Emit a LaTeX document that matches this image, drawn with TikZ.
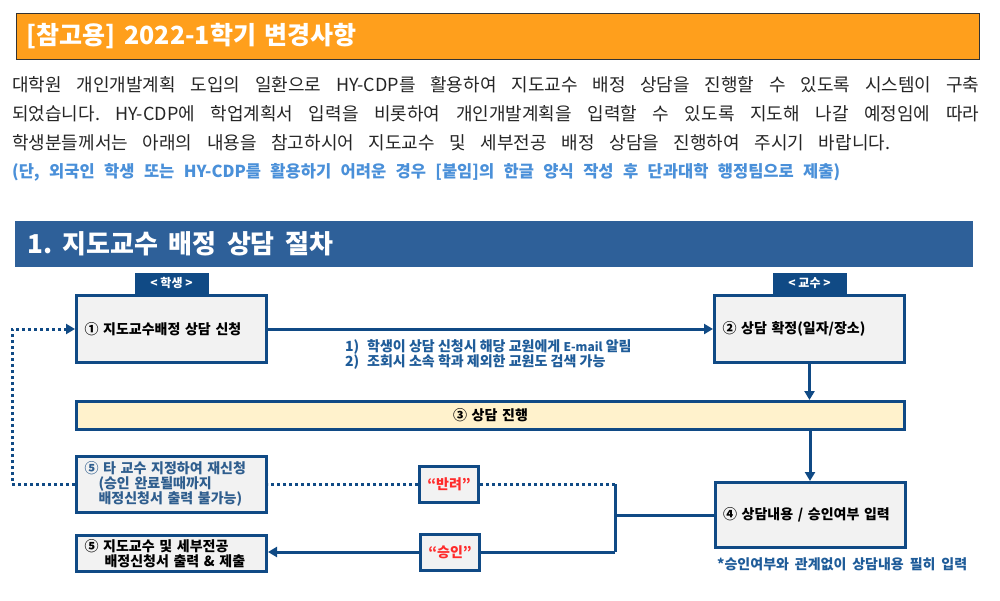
\documentclass[tikz,border=0pt]{standalone}
\usepackage{fontspec}
\setmainfont{Noto Sans CJK KR}
\usepackage{xcolor}
\usetikzlibrary{positioning,arrows.meta}
\frenchspacing

\definecolor{bannerorange}{HTML}{FF9F1C}
\definecolor{bannerblue}{HTML}{2E6099}
\definecolor{navy}{HTML}{104A85}
\definecolor{boxgray}{HTML}{F2F2F2}
\definecolor{boxyellow}{HTML}{FFF2CC}
\definecolor{bodytext}{HTML}{262626}
\definecolor{noteblue}{HTML}{4A90D9}
\definecolor{memoblue}{HTML}{1F5C99}
\definecolor{retext}{HTML}{2F5E8E}
\definecolor{redtext}{HTML}{FF2A2A}

\begin{document}
\begin{tikzpicture}[x=1pt, y=-1pt,
  stepbox/.style={draw=navy, line width=3pt, fill=boxgray, minimum width=190pt, minimum height=67pt,
    inner xsep=8pt, inner ysep=0pt, text width=174pt, align=left, font=\bfseries\fontsize{14}{15}\selectfont},
  roletab/.style={fill=navy, text=white, minimum width=74pt, minimum height=21pt, inner sep=0pt,
    font=\bfseries\fontsize{12}{13}\selectfont},
  verdict/.style={draw=navy, line width=3pt, fill=boxgray, minimum width=59pt, minimum height=36pt,
    inner sep=0pt, text=redtext, font=\bfseries\fontsize{14}{15}\selectfont},
  flow/.style={draw=navy, line width=3pt, -{Triangle[length=9pt,width=10pt]}},
  wire/.style={draw=navy, line width=3pt},
  dotline/.style={draw=navy, line width=3pt, dash pattern=on 3pt off 3pt},
  textline/.style={inner sep=0pt, anchor=west}]
  \fill[white] (0,0) rectangle (1000,600);
  \useasboundingbox (0,0) rectangle (1000,600);

  % banners
  \node[draw=black!80, line width=0.8pt, fill=bannerorange, minimum width=963pt, minimum height=46pt,
    inner sep=0pt, anchor=north west] (head) at (15.5,12.5) {};
  \node[textline, right=11pt of head.west, text=white, font=\bfseries\fontsize{25}{27}\selectfont] (headtxt)
    {\makebox[330pt][s]{[참고용] 2022-1학기 변경사항}};
  \node[textline, font=\fontsize{18}{20}\selectfont, text=bodytext] (par1) at (12,85)
    {\makebox[967pt][s]{대학원 개인개발계획 도입의 일환으로 HY-CDP를 활용하여 지도교수 배정 상담을 진행할 수 있도록 시스템이 구축}};
  \node[textline, font=\fontsize{18}{20}\selectfont, text=bodytext] (par2) at (12,114)
    {\makebox[967pt][s]{되었습니다. HY-CDP에 학업계획서 입력을 비롯하여 개인개발계획을 입력할 수 있도록 지도해 나갈 예정임에 따라}};
  \node[textline, font=\fontsize{18}{20}\selectfont, text=bodytext] (par3) at (12,143)
    {\makebox[878pt][s]{학생분들께서는 아래의 내용을 참고하시어 지도교수 및 세부전공 배정 상담을 진행하여 주시기 바랍니다.}};
  \node[textline, font=\bfseries\fontsize{16.5}{18}\selectfont, text=noteblue] (par4) at (12,172)
    {\makebox[828pt][s]{(단, 외국인 학생 또는 HY-CDP를 활용하기 어려운 경우 [붙임]의 한글 양식 작성 후 단과대학 행정팀으로 제출)}};
  \node[fill=bannerblue, minimum width=958pt, minimum height=46pt, inner sep=0pt, anchor=north west] (sect) at (15,221) {};
  \node[textline, right=12pt of sect.west, text=white, font=\bfseries\fontsize{26}{28}\selectfont] (secttxt)
    {\makebox[306pt][s]{1. 지도교수 배정 상담 절차}};

  % procedure
  \node[stepbox] (s1) at (171.5,329) {① 지도교수배정 상담 신청};
  \node[roletab, above=0pt of s1] (stu) {< 학생 >};
  \node[stepbox] (s2) at (809.5,329) {② 상담 확정(일자/장소)};
  \node[roletab, above=0pt of s2] (prof) {< 교수 >};
  \node[stepbox, fill=boxyellow, minimum width=828pt, minimum height=28pt, text width=812pt, align=center]
    (s3) at (490.5,415.5) {③ 상담 진행};
  \node[stepbox, minimum height=65pt] (s4) at (810,515) {④ 상담내용 / 승인여부 입력};
  \node[textline, font=\bfseries\fontsize{14}{15}\selectfont, text=memoblue] (s4note) at (717,564)
    {\makebox[250pt][s]{*승인여부와 관계없이 상담내용 필히 입력}};
  \node[stepbox, text=retext, minimum height=56pt] (s5a) at (171.5,484)
    {⑤ 타 교수 지정하여 재신청\\\hspace*{14pt}(승인 완료될때까지\\\hspace*{14pt}배정신청서 출력 불가능)};
  \node[stepbox, minimum height=36pt] (s5b) at (171.5,553.5)
    {⑤ 지도교수 및 세부전공\\\hspace*{20pt}배정신청서 출력 \& 제출};
  \node[verdict] (rej) at (449,484) {“반려”};
  \node[verdict] (ok) at (450,552) {“승인”};
  \node[textline, font=\bfseries\fontsize{14}{15}\selectfont, text=memoblue] (memo1) at (345,347)
    {\makebox[22pt][l]{1)}학생이 상담 신청시 해당 교원에게 {\fontsize{12}{13}\selectfont E-mail} 알림};
  \node[textline, font=\bfseries\fontsize{14}{15}\selectfont, text=memoblue] (memo2) at (345,362)
    {\makebox[22pt][l]{2)}조회시 소속 학과 제외한 교원도 검색 가능};

  \coordinate (jt) at (615,484);
  \coordinate (jm) at (615,515);
  \coordinate (jb) at (615,552);
  \coordinate (lp) at (12,484);

  \draw[flow] (s1.east) -- (s2.west);
  \draw[flow] (s2.south) -- (s2.south |- s3.north);
  \draw[flow] (s4.north |- s3.south) -- (s4.north);
  \draw[wire] (s4.west) -- (jm);
  \draw[wire] (jt) -- (jb);
  \draw[wire] (jb) -- (ok.east);
  \draw[flow] (ok.west) -- (ok.west -| s5b.east);
  \draw[dotline] (jt) -- (rej.east);
  \draw[dotline] (rej.west) -- (s5a.east);
  \draw[dotline, -{Triangle[length=9pt,width=10pt]}] (s5a.west) -- (lp) |- (s1.west);
\end{tikzpicture}
\end{document}
